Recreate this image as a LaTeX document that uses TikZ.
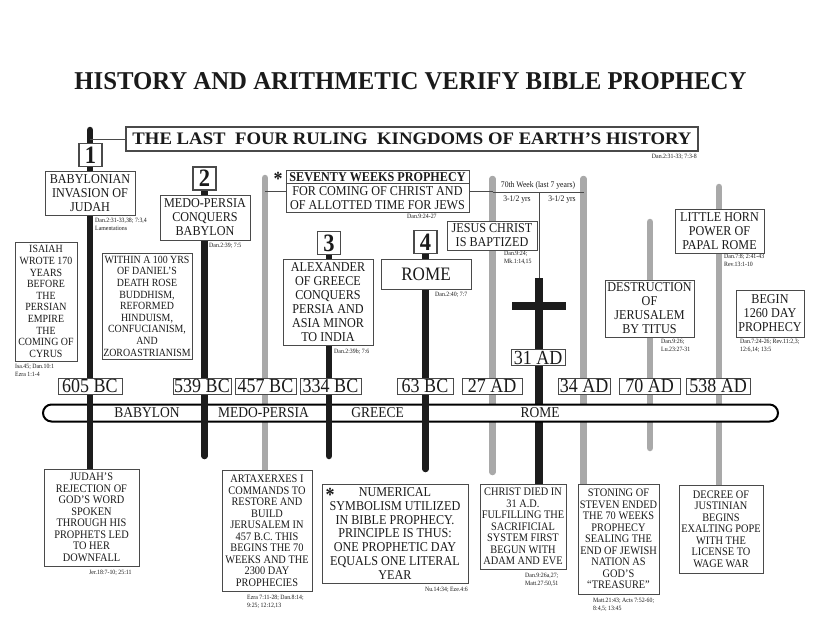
\documentclass[tikz,border=0pt]{standalone}
\usepackage{fontspec}
\setmainfont[FakeStretch=0.9]{Liberation Serif}
\usetikzlibrary{backgrounds}
\definecolor{PostBlack}{HTML}{1C1C1C}
\definecolor{PostGray}{HTML}{A9A9A9}
\definecolor{BoxEdge}{HTML}{4A4A4A}
\definecolor{InkBlack}{HTML}{1A1A1A}

\begin{document}
\begin{tikzpicture}[x=1pt, y=-1pt,
    box/.style={draw=BoxEdge, fill=white, line width=0.9pt, align=center, inner sep=1pt, text=InkBlack, font=\fontsize{13.5}{14}\selectfont},
    smallbox/.style={box, font=\fontsize{11.5}{11.5}\selectfont},
    narrowbox/.style={box, font=\fontsize{11}{11.6}\selectfont},
    numbox/.style={box, line width=1.3pt, font=\fontsize{25}{25}\selectfont\bfseries, minimum width=23pt, minimum height=23pt},
    datebox/.style={box, font=\fontsize{20}{20}\selectfont, text height=13.5pt, text depth=0pt, inner ysep=1.2pt, inner xsep=1pt},
    era/.style={font=\fontsize{15}{15}\selectfont, inner sep=0pt, text=InkBlack},
    ref/.style={font=\fontsize{6.5}{7.5}\selectfont, align=left, inner sep=0pt, text=InkBlack},
    note/.style={font=\fontsize{8.5}{9}\selectfont, inner sep=0pt, text=InkBlack},
    star/.style={font=\fontsize{20}{20}\selectfont\bfseries, inner sep=0pt, text=InkBlack},
    post/.style={line width=6.5pt, line cap=round, PostBlack},
    graypost/.style={line width=6.5pt, line cap=round, PostGray},
    crosspost/.style={line width=8pt, PostBlack},
    link/.style={line width=1pt, BoxEdge}
  ]
    \useasboundingbox (0,0) rectangle (825,638);

    % title and heading
    \node[inner sep=0pt, text=InkBlack] (title) at (410.5,81.5) {\resizebox{672pt}{17pt}{\bfseries HISTORY AND ARITHMETIC VERIFY BIBLE PROPHECY}};
    \node[box, line width=1.1pt, minimum width=572pt, minimum height=24pt] (kingdoms) at (412,139) {\resizebox{559pt}{11.7pt}{\bfseries THE LAST\ \ FOUR RULING\ \ KINGDOMS OF EARTH’S HISTORY}};
    \node[ref, anchor=north east] (refkings) at (697,154) {Dan.2:31-33; 7:3-8};

    % upper boxes
    \node[numbox] (num1) at (90.5,155) {1};
    \node[box, minimum width=90pt, minimum height=44pt] (babinv) at (90,193.5) {BABYLONIAN\\INVASION OF\\JUDAH};
    \node[ref, anchor=north west] (refbab) at (95,218) {Dan.2:31-33,38; 7:3,4\\Lamentations};
    \node[numbox] (num2) at (204.5,178.5) {2};
    \node[box, minimum width=90pt, minimum height=45pt] (medo) at (205,217.5) {MEDO-PERSIA\\CONQUERS\\BABYLON};
    \node[ref, anchor=north west] (refmedo) at (209,243) {Dan.2:39; 7:5};
    \node[narrowbox, minimum width=62pt, minimum height=119pt] (isaiah) at (46,301.5) {ISAIAH\\WROTE 170\\YEARS\\BEFORE\\THE\\PERSIAN\\EMPIRE\\THE\\COMING OF\\CYRUS};
    \node[ref, anchor=north west] (refisa) at (15,364) {Isa.45; Dan.10:1\\Ezra 1:1-4};
    \node[narrowbox, minimum width=90pt, minimum height=106pt] (within) at (147,306) {WITHIN A 100 YRS\\OF DANIEL’S\\DEATH ROSE\\BUDDHISM,\\REFORMED\\HINDUISM,\\CONFUCIANISM,\\AND\\ZOROASTRIANISM};
    \node[box, minimum width=183pt, minimum height=42pt] (seventy) at (377.5,191) {{\bfseries SEVENTY WEEKS PROPHECY}\\FOR COMING OF CHRIST AND\\OF ALLOTTED TIME FOR JEWS};
    \draw[link] ([yshift=-14pt]seventy.north west) -- ([yshift=-14pt]seventy.north east);
    \node[star] (star1) at (278,178.5) {*};
    \node[ref, anchor=north west] (refsev) at (407,214) {Dan.9:24-27};
    \node[numbox] (num3) at (329,243) {3};
    \node[box, minimum width=90pt, minimum height=86pt] (alex) at (328,302) {ALEXANDER\\OF GREECE\\CONQUERS\\PERSIA AND\\ASIA MINOR\\TO INDIA};
    \node[ref, anchor=north west] (refalex) at (334,349) {Dan.2:39b; 7:6};
    \node[numbox] (num4) at (425.5,242) {4};
    \node[box, font=\fontsize{19}{19}\selectfont, minimum width=90pt, minimum height=30pt] (rome) at (426,274) {ROME};
    \node[ref, anchor=north west] (refrome) at (435,292) {Dan.2:40; 7:7};
    \node[box, minimum width=90pt, minimum height=29pt] (jesus) at (492,235.5) {JESUS CHRIST\\IS BAPTIZED};
    \node[ref, anchor=north west] (refjesus) at (504,251) {Dan.9:24;\\Mk.1:14,15};
    \node[note] (lastweek) at (538,185) {70th Week (last 7 years)};
    \node[note] (halfa) at (517,200) {3-1/2 yrs};
    \node[note] (halfb) at (562,200) {3-1/2 yrs};
    \node[box, minimum width=89pt, minimum height=57pt] (destruct) at (649.5,308.5) {DESTRUCTION\\OF\\JERUSALEM\\BY TITUS};
    \node[ref, anchor=north west] (refdes) at (661,339) {Dan.9:26;\\Lu.23:27-31};
    \node[box, minimum width=89pt, minimum height=44pt] (little) at (719.5,231) {LITTLE HORN\\POWER OF\\PAPAL ROME};
    \node[ref, anchor=north west] (reflit) at (724,254) {Dan.7:8; 2:41-43\\Rev.13:1-10};
    \node[box, minimum width=68pt, minimum height=47pt] (begin) at (770,313.5) {BEGIN\\1260 DAY\\PROPHECY};
    \node[ref, anchor=north west] (refbeg) at (740,339) {Dan.7:24-26; Rev.11:2,3;\\12:6,14; 13:5};

    % dates
    \node[datebox, minimum width=64pt] (d605) at (90,386) {605 BC};
    \node[datebox, minimum width=58pt] (d539) at (202,386) {539 BC};
    \node[datebox, minimum width=61pt] (d457) at (265.5,386) {457 BC};
    \node[datebox, minimum width=61pt] (d334) at (330.5,386) {334 BC};
    \node[datebox, minimum width=56pt] (d63) at (425,386) {63 BC};
    \node[datebox, minimum width=60pt] (d27) at (492,386) {27 AD};
    \node[datebox, minimum width=54pt] (d31) at (538,357.5) {31 AD};
    \node[datebox, minimum width=52pt] (d34) at (584,386) {34 AD};
    \node[datebox, minimum width=61pt] (d70) at (649.5,386) {70 AD};
    \node[datebox, minimum width=64pt] (d538) at (718,386) {538 AD};

    % kingdoms bar
    \node[era] (ebab) at (147,413) {BABYLON};
    \node[era] (emedo) at (263.5,413) {MEDO-PERSIA};
    \node[era] (egreece) at (377.5,413) {GREECE};
    \node[era] (erome) at (540,413) {ROME};

    % lower boxes
    \node[smallbox, minimum width=95pt, minimum height=97pt] (judah) at (91.5,517.5) {JUDAH’S\\REJECTION OF\\GOD’S WORD\\SPOKEN\\THROUGH HIS\\PROPHETS LED\\TO HER\\DOWNFALL};
    \node[ref, anchor=north west] (refjud) at (89,570) {Jer.18:7-10; 25:11};
    \node[smallbox, minimum width=90pt, minimum height=121pt] (artax) at (267,530.5) {ARTAXERXES I\\COMMANDS TO\\RESTORE AND\\BUILD\\JERUSALEM IN\\457 B.C. THIS\\BEGINS THE 70\\WEEKS AND THE\\2300 DAY\\PROPHECIES};
    \node[ref, anchor=north west] (refart) at (247,595) {Ezra 7:11-28; Dan.8:14;\\9:25; 12:12,13};
    \node[box, font=\fontsize{13.5}{13.8}\selectfont, minimum width=146pt, minimum height=99pt] (numer) at (395,533.5) {NUMERICAL\\SYMBOLISM UTILIZED\\IN BIBLE PROPHECY.\\PRINCIPLE IS THUS:\\ONE PROPHETIC DAY\\EQUALS ONE LITERAL\\YEAR};
    \node[star] (star2) at (330,495) {*};
    \node[ref, anchor=north east] (refnum) at (468,587) {Nu.14:34; Eze.4:6};
    \node[smallbox, minimum width=86pt, minimum height=85pt] (christ) at (523,526.5) {CHRIST DIED IN\\31 A.D.\\FULFILLING THE\\SACRIFICIAL\\SYSTEM FIRST\\BEGUN WITH\\ADAM AND EVE};
    \node[ref, anchor=north west] (refchr) at (525,573) {Dan.9:26a,27;\\Matt.27:50,51};
    \node[smallbox, minimum width=81pt, minimum height=110pt] (stoning) at (618.5,539) {STONING OF\\STEVEN ENDED\\THE 70 WEEKS\\PROPHECY\\SEALING THE\\END OF JEWISH\\NATION AS\\GOD’S\\“TREASURE”};
    \node[ref, anchor=north west] (refsto) at (593,598) {Matt.21:43; Acts 7:52-60;\\8:4,5; 13:45};
    \node[smallbox, minimum width=84pt, minimum height=88pt] (decree) at (721,529) {DECREE OF\\JUSTINIAN\\BEGINS\\EXALTING POPE\\WITH THE\\LICENSE TO\\WAGE WAR};

    % post ends
    \coordinate (p1top) at (90,130);
    \coordinate (p2end) at (204.5,456);
    \coordinate (p457top) at (265,178);
    \coordinate (p3end) at (329,456);
    \coordinate (p4end) at (425.5,469);
    \coordinate (p27top) at (492.5,179);
    \coordinate (p27end) at (492.5,472);
    \coordinate (crosstop) at (539,278);
    \coordinate (beamL) at (512,306);
    \coordinate (beamR) at (566,306);
    \coordinate (p34top) at (583.5,179);
    \coordinate (p70top) at (650,222);
    \coordinate (p70end) at (650,448);
    \coordinate (p538top) at (719,187);
    \coordinate (wk27) at (492.5,192);
    \coordinate (wkmid) at (539,192);
    \coordinate (wk34) at (583.5,192);

    \begin{scope}[on background layer]
      \fill[white] (0,0) rectangle (825,638);
      % gray posts and the cross run behind the bar
      \draw[graypost] (p457top) -- (p457top |- artax.north);
      \draw[graypost] (p27top) -- (p27end);
      \draw[graypost] (p34top) -- (p34top |- stoning.north);
      \draw[graypost] (p70top) -- (p70end);
      \draw[graypost] (p538top) -- (p538top |- decree.north);
      \draw[crosspost] (crosstop) -- (crosstop |- christ.north);
      \draw[crosspost] (beamL) -- (beamR);
      \node[draw=black, line width=2pt, fill=white, rounded corners=8.5pt, minimum width=735pt, minimum height=17pt] (timeline) at (410.5,413) {};
      % black posts run over it
      \draw[post] (p1top) -- (p1top |- judah.north);
      \draw[post] (num2.center) -- (p2end);
      \draw[post] (num3.center) -- (p3end);
      \draw[post] (num4.center) -- (p4end);
    \end{scope}

    \draw[link] (p1top |- kingdoms.west) -- (kingdoms.west);
    \draw[link] (seventy.west -| p457top) -- (seventy.west);
    \draw[link] (seventy.east) -- (seventy.east -| p27top);
    \draw[link] (wk27) -- (wk34);
    \draw[link] (wkmid) -- (crosstop);
  \end{tikzpicture}
\end{document}
